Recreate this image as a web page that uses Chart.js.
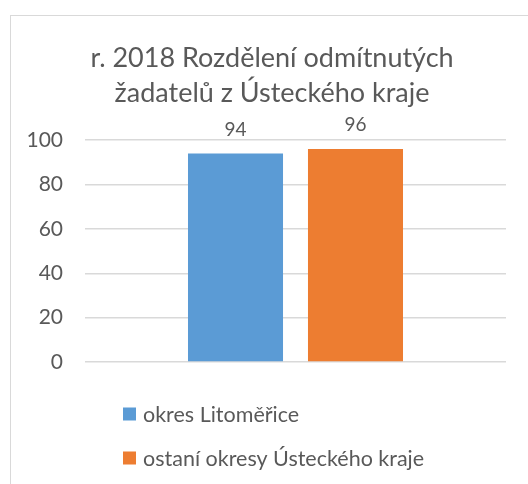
<!DOCTYPE html>
<html lang="cs">
<head>
    <meta charset="UTF-8">
    <title>r. 2018 Rozdělení odmítnutých žadatelů z Ústeckého kraje</title>
    <script src="https://cdn.jsdelivr.net/npm/chart.js"></script>
    <style>
        body { margin: 0; padding: 0; background: #fff; overflow: hidden; }
        .wrap { position: relative; width: 528px; height: 484px; }
        .frame { position: absolute; left: 10px; top: 15px; width: 540px; height: 500px; border: 1.5px solid #d9d9d9; }
        canvas { position: absolute; left: 0; top: 0; }
    </style>
</head>
<body>
    <div class="wrap">
        <div class="frame"></div>
        <canvas id="chart" width="528" height="484"></canvas>
    </div>
    <script>
        const categories = [''];
        const seriesNames = ['okres Litoměřice', 'ostaní okresy Ústeckého kraje'];
        const seriesValues = [94, 96];
        const seriesColors = ['#5B9BD5', '#ED7D31'];
        const yTicks = [0, 20, 40, 60, 80, 100];
        const titleLines = ['r. 2018 Rozdělení odmítnutých', 'žadatelů z Ústeckého kraje'];

        const textColor = '#595959';
        const fontFamily = 'Lato, sans-serif';

        // title is centred on the whole frame, not only on the plot
        const titleShift = {
            id: 'titleShift',
            afterLayout(chart) {
                if (chart.titleBlock) {
                    chart.titleBlock.left += 19;
                    chart.titleBlock.right += 19;
                }
            }
        };

        // value labels above the bars
        const valueLabels = {
            id: 'valueLabels',
            afterDatasetsDraw(chart) {
                const ctx = chart.ctx;
                ctx.save();
                ctx.font = '19px ' + fontFamily;
                ctx.fillStyle = textColor;
                ctx.textAlign = 'center';
                ctx.textBaseline = 'alphabetic';
                chart.data.datasets.forEach((ds, i) => {
                    chart.getDatasetMeta(i).data.forEach((bar, j) => {
                        ctx.fillText(ds.data[j], bar.x, bar.y - 18);
                    });
                });
                ctx.restore();
            }
        };

        // legend as a vertical list under the plot
        const listLegend = {
            id: 'listLegend',
            afterDraw(chart) {
                const ctx = chart.ctx;
                ctx.save();
                ctx.font = '21.5px ' + fontFamily;
                ctx.textBaseline = 'middle';
                chart.data.datasets.forEach((ds, i) => {
                    const y = 414 + i * 44;
                    ctx.fillStyle = ds.backgroundColor;
                    ctx.fillRect(123, y - 6.5, 13, 13);
                    ctx.fillStyle = textColor;
                    ctx.fillText(ds.label, 143, y + 1);
                });
                ctx.restore();
            }
        };

        const ctx = document.getElementById('chart').getContext('2d');
        new Chart(ctx, {
            type: 'bar',
            data: {
                labels: categories,
                datasets: seriesNames.map((name, i) => ({
                    label: name,
                    data: [seriesValues[i]],
                    backgroundColor: seriesColors[i],
                    barPercentage: 0.792,
                    categoryPercentage: 0.57
                }))
            },
            options: {
                responsive: false,
                animation: false,
                layout: { padding: { left: 0, right: 22, top: 0, bottom: 122 } },
                plugins: {
                    legend: { display: false },
                    tooltip: { enabled: false },
                    title: {
                        display: true,
                        text: titleLines,
                        color: textColor,
                        font: { family: fontFamily, size: 27, weight: 'normal', lineHeight: 1.3 },
                        padding: { top: 41, bottom: 29 }
                    }
                },
                scales: {
                    x: { display: false },
                    y: {
                        min: yTicks[0],
                        max: yTicks[yTicks.length - 1],
                        afterBuildTicks: (scale) => { scale.ticks = yTicks.map(v => ({ value: v })); },
                        afterFit: (scale) => { scale.width = 85; },
                        border: { display: false },
                        grid: { color: '#d9d9d9', lineWidth: 1.5, drawTicks: false },
                        ticks: { color: textColor, padding: 22, font: { family: fontFamily, size: 21 } }
                    }
                }
            },
            plugins: [titleShift, valueLabels, listLegend]
        });
    </script>
</body>
</html>
